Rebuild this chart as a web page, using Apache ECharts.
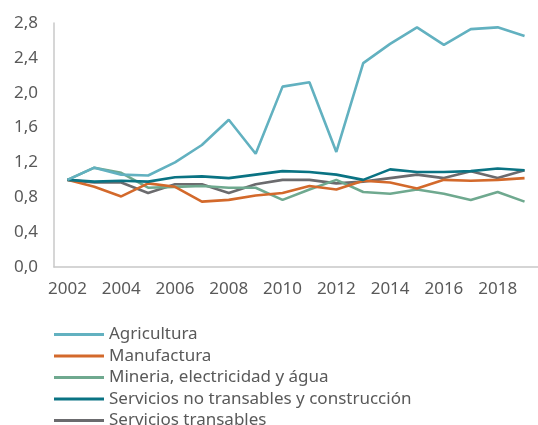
<!DOCTYPE html>
<html>
<head>
<meta charset="utf-8">
<script src="https://cdn.jsdelivr.net/npm/echarts@6/dist/echarts.min.js"></script>
<style>
  html, body { margin: 0; padding: 0; background: #fff; }
  #chart { width: 538px; height: 425px; }
</style>
</head>
<body>
<div id="chart"></div>
<script>
var years = ['2002', '2003', '2004', '2005', '2006', '2007', '2008', '2009', '2010',
  '2011', '2012', '2013', '2014', '2015', '2016', '2017', '2018', '2019'];

var agricultura = [1.00, 1.14, 1.06, 1.05, 1.20, 1.40, 1.69, 1.30, 2.07, 2.12, 1.32, 2.34, 2.56, 2.75, 2.55, 2.73, 2.75, 2.65];
var manufactura = [1.00, 0.92, 0.81, 0.96, 0.92, 0.75, 0.77, 0.82, 0.85, 0.93, 0.89, 0.99, 0.97, 0.90, 1.00, 0.99, 1.00, 1.02];
var mineria = [1.00, 1.14, 1.08, 0.91, 0.92, 0.93, 0.91, 0.91, 0.77, 0.89, 1.00, 0.86, 0.84, 0.89, 0.84, 0.77, 0.86, 0.75];
var noTransables = [1.00, 0.98, 0.99, 0.98, 1.03, 1.04, 1.02, 1.06, 1.10, 1.09, 1.06, 1.00, 1.12, 1.09, 1.09, 1.10, 1.13, 1.11];
var transables = [1.00, 0.97, 0.97, 0.85, 0.95, 0.95, 0.85, 0.95, 1.00, 1.00, 0.96, 0.98, 1.02, 1.06, 1.02, 1.10, 1.02, 1.11];

var names = ['Agricultura', 'Manufactura', 'Mineria, electricidad y água',
  'Servicios no transables y construcción', 'Servicios transables'];
var colors = ['#62b1c0', '#d3692b', '#6fa98f', '#0a7383', '#6b6b6e'];
var values = [agricultura, manufactura, mineria, noTransables, transables];

var chart = echarts.init(document.getElementById('chart'));

// draw order: bottom series first so agriculture stays on top
var series = [];
[4, 2, 1, 3, 0].forEach(function (i) {
  series.push({
    name: names[i],
    type: 'line',
    data: values[i],
    symbol: 'none',
    color: colors[i],
    lineStyle: { width: 2.6 },
    z: 2
  });
});

var font = 'Noto Sans';

var option = {
  backgroundColor: '#ffffff',
  animation: false,
  grid: { left: 54, right: -6, top: 23, bottom: 158 },
  legend: {
    data: names,
    orient: 'vertical',
    left: 49,
    top: 321,
    height: 200,
    icon: 'rect',
    itemWidth: 50,
    itemHeight: 3,
    itemGap: 4.5,
    textStyle: { fontFamily: font, fontSize: 17, color: '#595959', lineHeight: 17 }
  },
  xAxis: {
    type: 'category',
    data: years,
    boundaryGap: true,
    axisLine: { lineStyle: { color: '#c8c8c8', width: 1.5 } },
    axisTick: { show: false },
    axisLabel: { interval: 1, margin: 14, fontFamily: font, fontSize: 17, color: '#595959' }
  },
  yAxis: {
    type: 'value',
    min: 0,
    max: 2.8,
    interval: 0.4,
    axisLine: { show: true, lineStyle: { color: '#c8c8c8', width: 1.5 } },
    axisTick: { show: false },
    splitLine: { show: false },
    axisLabel: {
      margin: 16,
      fontFamily: font,
      fontSize: 17,
      color: '#595959',
      formatter: function (v) { return v.toFixed(1).replace('.', ','); }
    }
  },
  series: series
};

chart.setOption(option);
</script>
</body>
</html>
